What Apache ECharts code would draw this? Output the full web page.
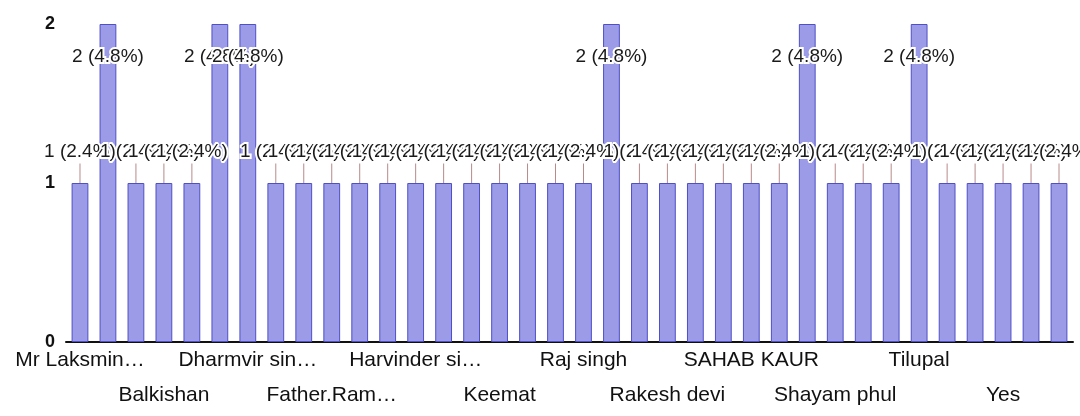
<!DOCTYPE html>
<html>
<head>
<meta charset="utf-8">
<script src="https://cdn.jsdelivr.net/npm/echarts@6/dist/echarts.min.js"></script>
<style>
  html, body { margin: 0; padding: 0; background: #ffffff; }
  #chart { width: 1080px; height: 416px; }
</style>
</head>
<body>
<div id="chart"></div>
<script>
// Category names (only every third one is displayed in the chart)
const categories = [
  "Mr Laksmin…", "Anil kumar", "Babli", "Balkishan", "Bimla devi", "Dharampal",
  "Dharmvir sin…", "Dilbag singh", "Father.Mohan", "Father.Ram…", "Gurmeet kaur", "Harpal singh",
  "Harvinder si…", "Jagdish", "Kamla devi", "Keemat", "Krishan", "Mahender",
  "Raj singh", "Rajbala", "Rajesh kumar", "Rakesh devi", "Ram kumar", "Ramesh",
  "SAHAB KAUR", "Satbir singh", "Shakuntla", "Shayam phul", "Sunita", "Suresh kumar",
  "Tilupal", "Vinod kumar", "Wazir singh", "Yes", "Yogesh", "Zile singh"
];
// Counts per category
const values = [
  1, 2, 1, 1, 1, 2,
  2, 1, 1, 1, 1, 1,
  1, 1, 1, 1, 1, 1,
  1, 2, 1, 1, 1, 1,
  1, 1, 2, 1, 1, 1,
  2, 1, 1, 1, 1, 1
];
const yTicks = [0, 1, 2];

const total = values.reduce((a, b) => a + b, 0);
const FONT = '"Liberation Sans", Arial, sans-serif';

function xLabelStyle(margin, showFn) {
  return {
    interval: showFn,
    hideOverlap: false,
    margin: margin,
    fontFamily: FONT,
    fontSize: 21,
    color: '#111111',
    lineHeight: 35
  };
}

const chart = echarts.init(document.getElementById('chart'), null, { renderer: 'canvas' });
chart.setOption({
  backgroundColor: '#ffffff',
  animation: false,
  grid: { left: 66, right: 7, top: 24, bottom: 74, containLabel: false, outerBoundsMode: 'none' },
  xAxis: [{
    type: 'category',
    position: 'bottom',
    data: categories,
    axisLine: { show: true, lineStyle: { color: '#111111', width: 2 } },
    axisTick: { show: false },
    axisLabel: xLabelStyle(1, function (i) { return i % 6 === 0; })
  }, {
    type: 'category',
    position: 'bottom',
    data: categories,
    axisLine: { show: false },
    axisTick: { show: false },
    axisLabel: xLabelStyle(36, function (i) { return i % 6 === 3; })
  }],
  yAxis: {
    type: 'value',
    min: yTicks[0],
    max: yTicks[yTicks.length - 1],
    interval: 1,
    axisLine: { show: false },
    axisTick: { show: false },
    splitLine: { show: false },
    axisLabel: {
      margin: 11,
      fontFamily: FONT,
      fontSize: 18,
      fontWeight: 'bold',
      color: '#111111'
    }
  },
  series: [{
    type: 'bar',
    xAxisIndex: 0,
    data: values,
    barCategoryGap: '40%',
    itemStyle: {
      color: '#9b9be8',
      borderColor: '#4f4fc6',
      borderWidth: 1
    },
    label: {
      show: true,
      position: 'top',
      distance: 5,
      fontFamily: FONT,
      fontSize: 19,
      lineHeight: 20,
      color: '#1a1a1a',
      textBorderColor: '#ffffff',
      textBorderWidth: 4,
      formatter: function (p) {
        return p.value + ' (' + (p.value / total * 100).toFixed(1) + '%)';
      }
    },
    labelLine: {
      show: true,
      lineStyle: { color: '#b88a8a', width: 1 }
    },
    labelLayout: function (params) {
      const v = values[params.dataIndex];
      return { dy: v >= 2 ? 48 : -16 };
    }
  }]
});
</script>
</body>
</html>
